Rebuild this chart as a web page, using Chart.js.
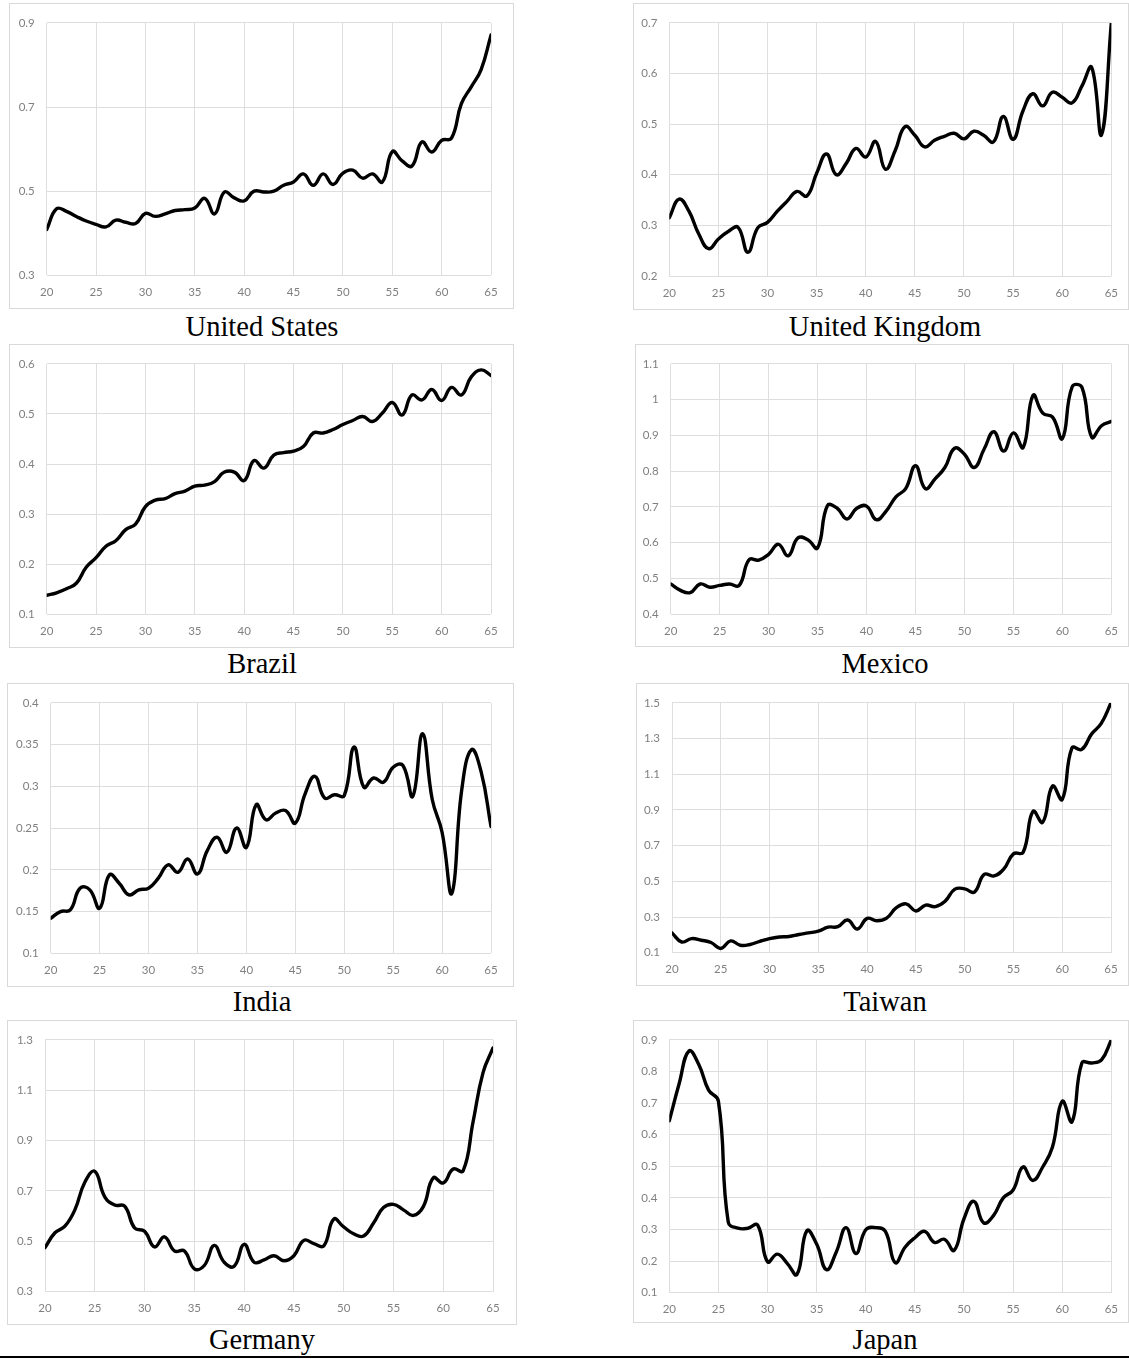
<!DOCTYPE html>
<html>
<head>
<meta charset="utf-8">
<script src="https://cdn.jsdelivr.net/npm/chart.js@4.4.1/dist/chart.umd.min.js"></script>
<style>
    body { margin: 0; background: #fff; width: 1129px; height: 1359px; position: relative; overflow: hidden; }
    .box { position: absolute; border: 1px solid #d9d9d9; box-sizing: border-box; background: #fff; }
    .box canvas { position: absolute; left: 0; top: 0; }
    .title { position: absolute; width: 400px; text-align: center; font-family: "Liberation Serif", "Times New Roman", serif; font-size: 28.5px; line-height: 30px; color: #000; }
    #rule { position: absolute; left: 0; top: 1356px; width: 1129px; height: 2px; background: #000; }
</style>
</head>
<body>
<div id="rule"></div>
<script>
// age on the x axis
const ages = [20, 21, 22, 23, 24, 25, 26, 27, 28, 29, 30, 31, 32, 33, 34, 35, 36, 37, 38, 39, 40, 41, 42,
    43, 44, 45, 46, 47, 48, 49, 50, 51, 52, 53, 54, 55, 56, 57, 58, 59, 60, 61, 62, 63, 64, 65];

const unitedStates = [0.409, 0.458, 0.452, 0.440, 0.429, 0.421, 0.415, 0.431, 0.426, 0.423, 0.447, 0.440,
    0.446, 0.454, 0.456, 0.460, 0.483, 0.446, 0.498, 0.484, 0.477, 0.500, 0.498, 0.500, 0.514, 0.522, 0.541,
    0.514, 0.541, 0.516, 0.543, 0.550, 0.531, 0.541, 0.522, 0.594, 0.572, 0.560, 0.617, 0.593, 0.621, 0.626,
    0.708, 0.748, 0.789, 0.871];
const unitedKingdom = [0.315, 0.352, 0.328, 0.283, 0.254, 0.273, 0.288, 0.296, 0.247, 0.295, 0.306, 0.328,
    0.348, 0.367, 0.358, 0.403, 0.441, 0.400, 0.422, 0.452, 0.435, 0.466, 0.411, 0.448, 0.495, 0.478, 0.455,
    0.468, 0.476, 0.482, 0.471, 0.486, 0.478, 0.465, 0.515, 0.470, 0.526, 0.560, 0.536, 0.563, 0.553, 0.542,
    0.575, 0.612, 0.479, 0.700];
const brazil = [0.138, 0.143, 0.151, 0.162, 0.194, 0.213, 0.236, 0.247, 0.269, 0.280, 0.315, 0.328, 0.331,
    0.341, 0.346, 0.356, 0.358, 0.365, 0.384, 0.384, 0.367, 0.407, 0.392, 0.418, 0.423, 0.426, 0.435, 0.462,
    0.462, 0.469, 0.479, 0.487, 0.495, 0.485, 0.502, 0.523, 0.498, 0.538, 0.528, 0.549, 0.527, 0.553, 0.538,
    0.574, 0.588, 0.577];
const mexico = [0.484, 0.466, 0.460, 0.484, 0.475, 0.480, 0.484, 0.480, 0.552, 0.551, 0.567, 0.595, 0.563,
    0.613, 0.608, 0.585, 0.703, 0.696, 0.666, 0.696, 0.702, 0.664, 0.688, 0.728, 0.751, 0.815, 0.751, 0.778,
    0.810, 0.864, 0.847, 0.810, 0.861, 0.910, 0.856, 0.907, 0.866, 1.012, 0.962, 0.951, 0.891, 1.036, 1.034,
    0.895, 0.927, 0.939];
const india = [0.142, 0.150, 0.152, 0.178, 0.176, 0.154, 0.194, 0.184, 0.170, 0.176, 0.178, 0.190, 0.206,
    0.197, 0.213, 0.195, 0.223, 0.239, 0.221, 0.250, 0.227, 0.278, 0.260, 0.268, 0.271, 0.256, 0.291, 0.312,
    0.286, 0.290, 0.289, 0.347, 0.299, 0.310, 0.305, 0.323, 0.325, 0.288, 0.363, 0.284, 0.245, 0.172, 0.295,
    0.344, 0.317, 0.252];
const taiwan = [0.211, 0.160, 0.179, 0.170, 0.157, 0.124, 0.166, 0.142, 0.146, 0.164, 0.179, 0.188, 0.191,
    0.202, 0.211, 0.221, 0.243, 0.246, 0.283, 0.233, 0.292, 0.279, 0.294, 0.352, 0.374, 0.334, 0.367, 0.358,
    0.389, 0.456, 0.458, 0.440, 0.539, 0.530, 0.568, 0.654, 0.663, 0.892, 0.831, 1.034, 0.959, 1.248, 1.239,
    1.325, 1.385, 1.500];
const germany = [0.475, 0.534, 0.560, 0.625, 0.735, 0.778, 0.677, 0.644, 0.640, 0.553, 0.540, 0.478, 0.518,
    0.462, 0.462, 0.391, 0.404, 0.484, 0.417, 0.401, 0.488, 0.417, 0.426, 0.443, 0.423, 0.443, 0.504, 0.491,
    0.482, 0.588, 0.557, 0.530, 0.521, 0.573, 0.634, 0.647, 0.625, 0.603, 0.638, 0.752, 0.732, 0.787, 0.780,
    0.975, 1.170, 1.268];
const japan = [0.644, 0.761, 0.865, 0.822, 0.741, 0.706, 0.324, 0.304, 0.304, 0.314, 0.198, 0.222, 0.193,
    0.158, 0.296, 0.254, 0.173, 0.229, 0.306, 0.224, 0.299, 0.306, 0.294, 0.195, 0.244, 0.274, 0.294, 0.259,
    0.269, 0.234, 0.334, 0.389, 0.321, 0.344, 0.400, 0.425, 0.498, 0.455, 0.497, 0.560, 0.706, 0.641, 0.827,
    0.827, 0.837, 0.900];

const countryNames = ['United States', 'United Kingdom', 'Brazil', 'Mexico', 'India', 'Taiwan', 'Germany', 'Japan'];
const countrySeries = [unitedStates, unitedKingdom, brazil, mexico, india, taiwan, germany, japan];

// y axis ranges per panel
const yMins = [0.3, 0.2, 0.1, 0.4, 0.1, 0.1, 0.3, 0.1];
const yMaxs = [0.9, 0.7, 0.6, 1.1, 0.4, 1.5, 1.3, 0.9];
const ySteps = [0.2, 0.1, 0.1, 0.1, 0.05, 0.2, 0.2, 0.1];

// panel placement on the page: outer box and plot area (left, top, right, bottom), title baseline
const panels = [
    { box: [9, 3, 514, 309], plot: [46.7, 17.3, 491, 275.3], cx: 262, base: 337 },
    { box: [633, 3, 1129, 310], plot: [669.3, 19, 1114.3, 276], cx: 885, base: 337 },
    { box: [9, 344, 514, 648], plot: [46.7, 360, 491, 614.3], cx: 262, base: 674 },
    { box: [635, 344, 1129, 647], plot: [670.7, 360, 1113.3, 614], cx: 885, base: 674 },
    { box: [7, 683, 514, 987], plot: [50.7, 697.3, 491, 953.3], cx: 262, base: 1011.5 },
    { box: [636, 683, 1129, 986], plot: [672, 697.3, 1111, 952.7], cx: 885, base: 1011.5 },
    { box: [7, 1020, 517, 1325], plot: [45, 1035, 493, 1291.7], cx: 262, base: 1350 },
    { box: [633, 1020, 1129, 1323], plot: [669.3, 1027.3, 1113, 1292.7], cx: 885, base: 1350 }
];

const tickFont = { family: 'Lato, "Open Sans", sans-serif', size: 11.5 };
const tickColor = '#808080';
const gridColor = '#dedede';

panels.forEach((p, i) => {
    const [bl, bt, br, bb] = p.box;
    const div = document.createElement('div');
    div.className = 'box';
    div.style.left = bl + 'px';
    div.style.top = bt + 'px';
    div.style.width = (br - bl) + 'px';
    div.style.height = (bb - bt) + 'px';
    document.body.appendChild(div);

    const canvas = document.createElement('canvas');
    const innerW = br - bl - 2;
    const innerH = bb - bt - 2;
    canvas.width = innerW;
    canvas.height = innerH;
    div.appendChild(canvas);

    // inner origin of the canvas on the page
    const ox = bl + 1;
    const oy = bt + 1;
    const [pl, pt, pr, pb] = p.plot;

    new Chart(canvas, {
        type: 'line',
        data: {
            datasets: [{
                label: countryNames[i],
                data: ages.map((a, k) => ({ x: a, y: countrySeries[i][k] })),
                borderColor: '#000',
                borderWidth: 3.4,
                tension: 0.45,
                pointRadius: 0,
                fill: false,
                borderCapStyle: 'round',
                borderJoinStyle: 'round'
            }]
        },
        options: {
            responsive: false,
            animation: false,
            events: [],
            layout: {
                padding: { left: 0, bottom: 0, top: pt - oy, right: (ox + innerW) - pr }
            },
            plugins: {
                legend: { display: false },
                tooltip: { enabled: false }
            },
            scales: {
                x: {
                    type: 'linear',
                    min: 20,
                    max: 65,
                    grid: { color: gridColor, drawTicks: false, lineWidth: 1 },
                    border: { display: false },
                    ticks: { stepSize: 5, color: tickColor, font: tickFont, padding: 10, maxRotation: 0 },
                    afterFit: s => { s.height = (oy + innerH) - pb; }
                },
                y: {
                    min: yMins[i],
                    max: yMaxs[i],
                    grid: { color: gridColor, drawTicks: false, lineWidth: 1 },
                    border: { display: false },
                    ticks: {
                        stepSize: ySteps[i],
                        color: tickColor,
                        font: tickFont,
                        padding: 12,
                        callback: v => String(Math.round(v * 100) / 100)
                    },
                    afterFit: s => { s.width = pl - ox; }
                }
            }
        }
    });

    const title = document.createElement('div');
    title.className = 'title';
    title.textContent = countryNames[i];
    title.style.left = (p.cx - 200) + 'px';
    title.style.top = (p.base - 24.6) + 'px';
    document.body.appendChild(title);
});
</script>
</body>
</html>
